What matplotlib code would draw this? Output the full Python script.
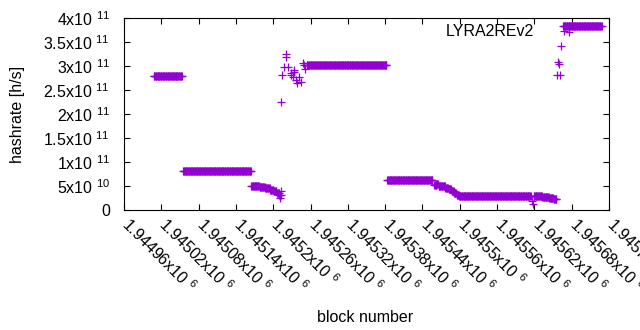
import numpy as np
import matplotlib.pyplot as plt
from matplotlib.transforms import ScaledTranslation

plt.rcParams['font.family'] = ['Liberation Sans', 'DejaVu Sans']
plt.rcParams['mathtext.fontset'] = 'custom'
plt.rcParams['mathtext.rm'] = 'Liberation Sans'
plt.rcParams['mathtext.it'] = 'Liberation Sans:italic'

# runs of blocks that share one hashrate value: first block, last block, hashrate
run_start = [1945008, 1945055, 1945165, 1945178, 1945187, 1945195, 1945201,
             1945206, 1945210, 1945254, 1945383, 1945459, 1945463, 1945466,
             1945471, 1945477, 1945482, 1945487, 1945491, 1945495, 1945499,
             1945619, 1945633, 1945644, 1945651, 1945666]
run_end = [1945053, 1945164, 1945177, 1945186, 1945194, 1945200, 1945205,
           1945209, 1945212, 1945382, 1945456, 1945462, 1945465, 1945470,
           1945476, 1945481, 1945486, 1945490, 1945494, 1945498, 1945614,
           1945632, 1945643, 1945650, 1945655, 1945728]
run_rate = [2.79e11, 8.2e10, 5.0e10, 4.7e10, 4.5e10, 4.2e10, 3.9e10,
            3.5e10, 3.1e10, 3.03e11, 6.2e10, 5.2e10, 5.4e10, 5.1e10,
            4.9e10, 4.6e10, 4.3e10, 4.0e10, 3.6e10, 3.2e10, 2.9e10,
            2.9e10, 2.7e10, 2.5e10, 2.3e10, 3.84e11]

# single blocks that stand out from the runs
odd_block = [1945211, 1945212, 1945213, 1945214, 1945217, 1945220, 1945221,
             1945224, 1945228, 1945229, 1945231, 1945233, 1945234, 1945237,
             1945238, 1945241, 1945244, 1945248, 1945249, 1945251,
             1945616, 1945617, 1945657, 1945658, 1945659, 1945661, 1945663,
             1945675]
odd_rate = [2.5e10, 4.0e10, 2.26e11, 2.81e11, 2.97e11, 3.24e11, 3.19e11,
            2.97e11, 2.81e11, 2.85e11, 2.77e11, 2.92e11, 2.87e11, 2.71e11,
            2.65e11, 2.78e11, 2.67e11, 3.07e11, 3.02e11, 2.93e11,
            1.8e10, 1.3e10, 2.81e11, 3.08e11, 3.04e11, 2.81e11, 3.42e11,
            3.71e11]

blocks = [np.arange(a, b + 1) for a, b in zip(run_start, run_end)]
rates = [np.full(len(b), r) for b, r in zip(blocks, run_rate)]
x = np.concatenate(blocks + [np.array(odd_block)])
y = np.concatenate(rates + [np.array(odd_rate)])
order = np.argsort(x, kind='stable')
x, y = x[order], y[order]

xticks = np.arange(1944960, 1945741, 60)
yticks = np.arange(0, 4.01e11, 0.5e11)


def sci(v):
    if v == 0:
        return '0'
    e = int(np.floor(np.log10(v)))
    m = v / 10 ** e
    return '%gx10 $^{%d}$' % (round(m, 6), e)


fig = plt.figure(figsize=(6.4, 3.3), dpi=100)
ax = fig.add_axes([124 / 640, 1 - 210 / 330, 485 / 640, 192 / 330])

ax.plot(x, y, '+', color='#9400d3', ms=5.2, mew=0.9, label='LYRA2REv2')

ax.set_xlim(1944960, 1945740)
ax.set_ylim(0, 4e11)
ax.set_xticks(xticks)
ax.set_xticklabels([sci(v) for v in xticks], rotation=-45, ha='left', va='top')
ax.set_yticks(yticks)
ax.set_yticklabels([sci(v) for v in yticks])
ax.tick_params(direction='in', length=4, width=0.8, top=True, right=True,
               labelsize=11.5)
ax.tick_params(axis='x', pad=3)
ax.tick_params(axis='y', pad=10)
shift = ScaledTranslation(-4 / 72, 0, fig.dpi_scale_trans)
for lab in ax.get_xticklabels():
    lab.set_transform(lab.get_transform() + shift)
for s in ax.spines.values():
    s.set_linewidth(0.8)

ax.set_xlabel('block number', fontsize=11.5)
ax.set_ylabel('hashrate [h/s]', fontsize=11.5)
ax.xaxis.set_label_coords(0.497, -0.52)
ax.yaxis.set_label_coords(-0.205, 0.5)

ax.legend(loc='upper right', bbox_to_anchor=(0.971, 1.026), frameon=False,
          markerfirst=False, fontsize=11.5, handlelength=2.5,
          handletextpad=0.6, borderaxespad=0.3)

fig.savefig('out.png', dpi=100)
